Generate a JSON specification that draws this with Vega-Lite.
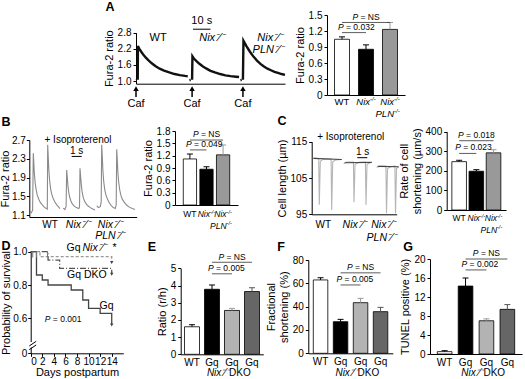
{
"$schema":"https://vega.github.io/schema/vega-lite/v6.json",
"width":525,"height":379,"padding":0,"autosize":{"type":"none"},"background":"white",
"config":{"view":{"stroke":null},"font":"Liberation Sans",
 "axis":{"labelFont":"Liberation Sans","titleFont":"Liberation Sans","labelFontSize":10,"titleFontSize":11,"titleFontWeight":"normal","labelColor":"#000","titleColor":"#000","domainColor":"#000","tickColor":"#000","domainWidth":1,"tickWidth":1,"tickSize":3,"labelPadding":2,"grid":false,"titlePadding":3},
 "text":{"font":"Liberation Sans","baseline":"middle","color":"#000"}},
"datasets":{
 "trA":[{"s":"a0","t":0.0,"v":1.02},{"s":"a0","t":0.5,"v":1.03},
  {"s":"a1","t":1.0,"v":1.05},{"s":"a1","t":1.1,"v":2.3},{"s":"a1","t":2,"v":2.19},{"s":"a1","t":3,"v":2.09},{"s":"a1","t":4,"v":2.0},{"s":"a1","t":5.5,"v":1.88},{"s":"a1","t":7,"v":1.78},{"s":"a1","t":9,"v":1.66},{"s":"a1","t":11,"v":1.56},{"s":"a1","t":13.5,"v":1.46},{"s":"a1","t":16,"v":1.39},{"s":"a1","t":19,"v":1.32},{"s":"a1","t":22,"v":1.26},{"s":"a1","t":25,"v":1.22},{"s":"a1","t":28,"v":1.19},{"s":"a1","t":29.5,"v":1.18},
  {"s":"b0","t":30.5,"v":1.03},{"s":"b0","t":31.2,"v":1.04},
  {"s":"b1","t":32,"v":1.05},{"s":"b1","t":32.2,"v":1.92},{"s":"b1","t":33,"v":1.84},{"s":"b1","t":34.5,"v":1.74},{"s":"b1","t":36,"v":1.65},{"s":"b1","t":38,"v":1.55},{"s":"b1","t":40,"v":1.47},{"s":"b1","t":42.5,"v":1.38},{"s":"b1","t":45,"v":1.32},{"s":"b1","t":48,"v":1.26},{"s":"b1","t":51,"v":1.21},{"s":"b1","t":54,"v":1.18},{"s":"b1","t":57,"v":1.16},{"s":"b1","t":58.8,"v":1.15},
  {"s":"c0","t":59.6,"v":1.03},{"s":"c0","t":60.3,"v":1.04},
  {"s":"c1","t":61,"v":1.05},{"s":"c1","t":61.3,"v":2.5},{"s":"c1","t":63,"v":2.3},{"s":"c1","t":65,"v":2.09},{"s":"c1","t":67,"v":1.91},{"s":"c1","t":69,"v":1.76},{"s":"c1","t":71,"v":1.64},{"s":"c1","t":73,"v":1.54},{"s":"c1","t":75,"v":1.46},{"s":"c1","t":77,"v":1.4},{"s":"c1","t":79,"v":1.34},{"s":"c1","t":81,"v":1.3},{"s":"c1","t":83,"v":1.26},{"s":"c1","t":85,"v":1.23}],
 "sbA":[{"t":32.5,"t2":42.5,"v":2.93}],
 "sbtA":[{"t":37.5,"v":3.22,"txt":"10 s"}],
 "cafA":[{"t":0,"v":0.4,"v2":0.7},{"t":32,"v":0.4,"v2":0.7},{"t":61,"v":0.4,"v2":0.7}],
 "cafTriA":[{"t":0,"v":0.72},{"t":32,"v":0.72},{"t":61,"v":0.72}],
 "cafTxtA":[{"t":0,"v":0.14,"txt":"Caf"},{"t":32,"v":0.14,"txt":"Caf"},{"t":61,"v":0.14,"txt":"Caf"}],
 "lblA":[{"t":12.6,"v":2.59,"txt":"WT"}],
 "lblAi":[{"t":43.4,"v":2.59,"txt":"Nix⁻⁄⁻"},{"t":76.5,"v":2.59,"txt":"Nix⁻⁄⁻"},{"t":75.4,"v":2.16,"txt":"PLN⁻⁄⁻"}],
 "letA":[{"t":-14.8,"v":3.74,"txt":"A"}],
 "barA":[{"g":"WT","v":1.045,"e":1.09},{"g":"Nix","v":0.857,"e":0.94},{"g":"PLN","v":1.23,"e":1.36}],
 "capA":[{"g":"WT","v":1.09},{"g":"Nix","v":0.94},{"g":"PLN","v":1.36}],
 "brA":[{"g":"WT","g2":"Nix","v":1.17},{"g":"WT","g2":"PLN","v":1.36}],
 "ptAl":[{"g":"WT","v":1.25,"txt":"= 0.032"}],
 "ptAc":[{"g":"Nix","v":1.45,"txt":"= NS"}],
 "xlAn":[{"g":"WT","v":-0.131,"txt":"WT"}],
 "xlAi":[{"g":"Nix","v":-0.131,"txt":"Nix"},{"g":"PLN","v":-0.131,"txt":"Nix"},{"g":"PLN","v":-0.356,"txt":"PLN"}],
 "trB":[{"s":"W","t":0.1,"v":1.18},{"s":"W","t":0.2,"v":1.15},{"s":"W","t":0.33,"v":1.2},{"s":"W","t":0.4,"v":2.42},{"s":"W","t":0.45,"v":2.22},{"s":"W","t":0.5,"v":2.0},{"s":"W","t":0.58,"v":1.8},{"s":"W","t":0.68,"v":1.65},{"s":"W","t":0.8,"v":1.52},{"s":"W","t":0.95,"v":1.44},{"s":"W","t":1.1,"v":1.37},{"s":"W","t":1.3,"v":1.32},{"s":"W","t":1.5,"v":1.27},{"s":"W","t":1.7,"v":1.24},{"s":"W","t":1.8,"v":1.23},{"s":"W","t":1.84,"v":2.6},{"s":"W","t":1.89,"v":2.36},{"s":"W","t":1.95,"v":2.08},{"s":"W","t":2.03,"v":1.84},{"s":"W","t":2.13,"v":1.66},{"s":"W","t":2.25,"v":1.54},{"s":"W","t":2.4,"v":1.45},{"s":"W","t":2.56,"v":1.38},{"s":"W","t":2.75,"v":1.32},{"s":"W","t":2.95,"v":1.27},{"s":"W","t":3.07,"v":1.24},
  {"s":"N","t":3.4,"v":1.25},{"s":"N","t":3.55,"v":1.22},{"s":"N","t":3.68,"v":1.28},{"s":"N","t":3.74,"v":2.06},{"s":"N","t":3.8,"v":1.9},{"s":"N","t":3.86,"v":1.73},{"s":"N","t":3.94,"v":1.59},{"s":"N","t":4.04,"v":1.48},{"s":"N","t":4.16,"v":1.4},{"s":"N","t":4.3,"v":1.34},{"s":"N","t":4.5,"v":1.29},{"s":"N","t":4.7,"v":1.26},{"s":"N","t":4.95,"v":1.24},{"s":"N","t":5.02,"v":1.27},{"s":"N","t":5.07,"v":2.1},{"s":"N","t":5.13,"v":1.93},{"s":"N","t":5.2,"v":1.75},{"s":"N","t":5.28,"v":1.6},{"s":"N","t":5.38,"v":1.49},{"s":"N","t":5.5,"v":1.41},{"s":"N","t":5.65,"v":1.35},{"s":"N","t":5.85,"v":1.3},{"s":"N","t":6.1,"v":1.26},{"s":"N","t":6.35,"v":1.23},{"s":"N","t":6.57,"v":1.21},
  {"s":"P","t":6.74,"v":1.3},{"s":"P","t":6.9,"v":1.26},{"s":"P","t":7.1,"v":1.28},{"s":"P","t":7.19,"v":1.38},{"s":"P","t":7.24,"v":2.6},{"s":"P","t":7.3,"v":2.35},{"s":"P","t":7.36,"v":2.05},{"s":"P","t":7.44,"v":1.82},{"s":"P","t":7.54,"v":1.65},{"s":"P","t":7.66,"v":1.53},{"s":"P","t":7.8,"v":1.45},{"s":"P","t":7.98,"v":1.37},{"s":"P","t":8.2,"v":1.3},{"s":"P","t":8.4,"v":1.26},{"s":"P","t":8.6,"v":1.24},{"s":"P","t":8.69,"v":1.32},{"s":"P","t":8.74,"v":2.5},{"s":"P","t":8.8,"v":2.27},{"s":"P","t":8.86,"v":2.0},{"s":"P","t":8.94,"v":1.8},{"s":"P","t":9.04,"v":1.64},{"s":"P","t":9.16,"v":1.52},{"s":"P","t":9.3,"v":1.44},{"s":"P","t":9.5,"v":1.37},{"s":"P","t":9.75,"v":1.31},{"s":"P","t":10.0,"v":1.27},{"s":"P","t":10.3,"v":1.24},{"s":"P","t":10.57,"v":1.22}],
 "lblB":[{"t":2.07,"v":0.89,"txt":"WT"},{"t":4.87,"v":2.71,"txt":"+ Isoproterenol"},{"t":4.74,"v":2.475,"txt":"1 s"}],
 "lblBi":[{"t":4.9,"v":0.89,"txt":"Nix⁻⁄⁻"},{"t":8.1,"v":0.89,"txt":"Nix⁻⁄⁻"},{"t":8.1,"v":0.655,"txt":"PLN⁻⁄⁻"}],
 "sbB":[{"t":4.24,"t2":5.24,"v":2.35}],
 "letB":[{"t":-2.33,"v":3.08,"txt":"B"}],
 "barB":[{"g":"WT","v":1.12,"e":1.24},{"g":"Nix","v":0.87,"e":0.93},{"g":"PLN","v":1.22,"e":1.46}],
 "capB":[{"g":"WT","v":1.24},{"g":"Nix","v":0.93},{"g":"PLN","v":1.46}],
 "brB":[{"g":"WT","g2":"Nix","v":1.34},{"g":"WT","g2":"PLN","v":1.58}],
 "ptBl":[{"g":"WT","v":1.46,"txt":"= 0.049"}],
 "ptBc":[{"g":"Nix","v":1.71,"txt":"= NS"}],
 "xlBn":[{"g":"WT","v":-0.231,"txt":"WT"}],
 "xlBi":[{"g":"Nix","v":-0.231,"txt":"Nix"},{"g":"PLN","v":-0.231,"txt":"Nix"},{"g":"PLN","v":-0.511,"txt":"PLN"}],
 "trC":[{"s":"W","t":0.17,"v":110.5},{"s":"W","t":0.5,"v":110.4},{"s":"W","t":0.7,"v":110.3},{"s":"W","t":0.76,"v":97.6},{"s":"W","t":0.86,"v":109.6},{"s":"W","t":1.1,"v":110.1},{"s":"W","t":1.5,"v":110.2},{"s":"W","t":1.94,"v":110.2},{"s":"W","t":2.0,"v":96.2},{"s":"W","t":2.1,"v":109.4},{"s":"W","t":2.4,"v":110.0},{"s":"W","t":3.0,"v":110.1},
  {"s":"N","t":3.2,"v":108.9},{"s":"N","t":3.5,"v":109.4},{"s":"N","t":4.17,"v":109.4},{"s":"N","t":4.23,"v":98.3},{"s":"N","t":4.33,"v":108.7},{"s":"N","t":4.7,"v":109.3},{"s":"N","t":5.37,"v":109.4},{"s":"N","t":5.43,"v":97.6},{"s":"N","t":5.53,"v":108.7},{"s":"N","t":5.8,"v":109.2},{"s":"N","t":6.0,"v":109.3},
  {"s":"P","t":6.5,"v":107.9},{"s":"P","t":6.8,"v":108.3},{"s":"P","t":7.42,"v":108.3},{"s":"P","t":7.48,"v":95.3},{"s":"P","t":7.58,"v":107.6},{"s":"P","t":7.9,"v":108.1},{"s":"P","t":8.32,"v":108.3},{"s":"P","t":8.38,"v":95.2},{"s":"P","t":8.48,"v":107.6},{"s":"P","t":8.7,"v":108.1}],
 "trCb":[{"s":"W","t":0.17,"v":110.4},{"s":"W","t":3.0,"v":110.1},{"s":"N","t":3.3,"v":109.2},{"s":"N","t":6.0,"v":109.3},{"s":"P","t":6.6,"v":108.2},{"s":"P","t":8.7,"v":108.1}],
 "lblC":[{"t":1.16,"v":92.1,"txt":"WT"},{"t":3.9,"v":116.3,"txt":"+ Isoproterenol"},{"t":5.1,"v":112.2,"txt":"1 s"}],
 "lblCi":[{"t":4.33,"v":92.1,"txt":"Nix⁻⁄⁻"},{"t":7.2,"v":92.1,"txt":"Nix⁻⁄⁻"},{"t":7.0,"v":88.4,"txt":"PLN⁻⁄⁻"}],
 "sbC":[{"t":4.56,"t2":5.56,"v":110.6}],
 "letC":[{"t":-2.97,"v":120.7,"txt":"C"}],
 "barC":[{"g":"WT","v":247,"e":254},{"g":"Nix","v":198,"e":206},{"g":"PLN","v":292,"e":308}],
 "capC":[{"g":"WT","v":254},{"g":"Nix","v":206},{"g":"PLN","v":308}],
 "brC":[{"g":"WT","g2":"Nix","v":289},{"g":"WT","g2":"PLN","v":354}],
 "ptCl":[{"g":"WT","v":317,"txt":"= 0.023"}],
 "ptCc":[{"g":"Nix","v":380,"txt":"= 0.018"}],
 "xlCn":[{"g":"WT","v":-42.4,"txt":"WT"}],
 "xlCi":[{"g":"Nix","v":-42.4,"txt":"Nix"},{"g":"PLN","v":-42.4,"txt":"Nix"},{"g":"PLN","v":-102.2,"txt":"PLN"}],
 "sv":[{"grp":"Gq","d":0,"p":1},{"grp":"Gq","d":1,"p":0.86},{"grp":"Gq","d":2,"p":0.83},{"grp":"Gq","d":3,"p":0.8},{"grp":"Gq","d":7,"p":0.77},{"grp":"Gq","d":9,"p":0.71},{"grp":"Gq","d":10,"p":0.66},{"grp":"Gq","d":12,"p":0.63},{"grp":"Gq","d":14,"p":0.63},{"grp":"Gq","d":14,"p":0.565},
  {"grp":"GqNix","d":0,"p":1},{"grp":"GqNix","d":1.6,"p":0.97},{"grp":"GqNix","d":14,"p":0.97},{"grp":"GqNix","d":14,"p":0.94},
  {"grp":"DKO","d":0,"p":1},{"grp":"DKO","d":3,"p":0.95},{"grp":"DKO","d":5,"p":0.9},{"grp":"DKO","d":14,"p":0.9},{"grp":"DKO","d":14,"p":0.87}],
 "svCen":[{"d":0.35,"p":1.0,"p2":0.965},{"d":1.0,"p":1.0,"p2":0.965},{"d":2.9,"p":1.0,"p2":0.968}],
 "svArr":[{"d":14,"p":0.56},{"d":14,"p":0.935},{"d":14,"p":0.865}],
 "svBrkW":[{"d":0,"p":0.425,"p2":0.458}],
 "svBrk":[{"d":-0.25,"p":0.412,"d2":0.95,"p2":0.44},{"d":-0.25,"p":0.434,"d2":0.95,"p2":0.462}],
 "lblD":[{"d":7.4,"p":1.022,"txt":"Gq"},{"d":14.5,"p":1.025,"txt":"*"},{"d":9.7,"p":0.862,"txt":"Gq DKO"},{"d":13.1,"p":0.675,"txt":"Gq"}],
 "lblDi":[{"d":11.1,"p":1.022,"txt":"Nix⁻⁄⁻"}],
 "ptD":[{"d":5.6,"p":0.594,"txt":"= 0.001"}],
 "letD":[{"d":-4.27,"p":1.034,"txt":"D"}],
 "barE":[{"g":"WT","v":1.6,"e":1.72},{"g":"Gq","v":3.78,"e":4.03},{"g":"GqNix","v":2.55,"e":2.67},{"g":"DKO","v":3.65,"e":3.87}],
 "capE":[{"g":"WT","v":1.72},{"g":"Gq","v":4.03},{"g":"GqNix","v":2.67},{"g":"DKO","v":3.87}],
 "brE":[{"g":"Gq","g2":"GqNix","v":4.68},{"g":"Gq","g2":"DKO","v":5.35}],
 "ptEl":[{"g":"Gq","v":4.98,"txt":"= 0.005"}],
 "ptEc":[{"g":"GqNix","v":5.62,"txt":"= NS"}],
 "l2E":[{"g":"GqNix","v":-1.09,"txt":"DKO"}],
 "l2Ei":[{"g":"GqNix","v":-1.09,"txt":"Nix⁻⁄⁻"}],
 "letE":[{"g":"WT","v":6.24,"txt":"E"}],
 "barF":[{"g":"WT","v":62.9,"e":64.8},{"g":"Gq","v":27.1,"e":29.1},{"g":"GqNix","v":43.4,"e":47.1},{"g":"DKO","v":35.7,"e":39.4}],
 "capF":[{"g":"WT","v":64.8},{"g":"Gq","v":29.1},{"g":"GqNix","v":47.1},{"g":"DKO","v":39.4}],
 "brF":[{"g":"Gq","g2":"GqNix","v":58.6},{"g":"Gq","g2":"DKO","v":69}],
 "ptFl":[{"g":"Gq","v":62.8,"txt":"= 0.005"}],
 "ptFc":[{"g":"GqNix","v":73,"txt":"= NS"}],
 "l2F":[{"g":"GqNix","v":-16.9,"txt":"DKO"}],
 "l2Fi":[{"g":"GqNix","v":-16.9,"txt":"Nix⁻⁄⁻"}],
 "letF":[{"g":"WT","v":91.1,"txt":"F"}],
 "barG":[{"g":"WT","v":0.5,"e":0.7},{"g":"Gq","v":14.3,"e":16.0},{"g":"GqNix","v":7.0,"e":7.4},{"g":"DKO","v":9.4,"e":10.4}],
 "capG":[{"g":"WT","v":0.7},{"g":"Gq","v":16.0},{"g":"GqNix","v":7.4},{"g":"DKO","v":10.4}],
 "brG":[{"g":"Gq","g2":"GqNix","v":17.7},{"g":"Gq","g2":"DKO","v":20.0}],
 "ptGl":[{"g":"Gq","v":18.7,"txt":"= 0.002"}],
 "ptGc":[{"g":"GqNix","v":21.0,"txt":"= NS"}],
 "l2G":[{"g":"GqNix","v":-4.0,"txt":"DKO"}],
 "l2Gi":[{"g":"GqNix","v":-4.0,"txt":"Nix⁻⁄⁻"}],
 "letG":[{"g":"WT","v":22.5,"txt":"G"}]
},
"layer":[
 {"encoding":{
   "x":{"field":"t","type":"quantitative","scale":{"domain":[0,85],"range":[136,285],"nice":false,"zero":false},"axis":{"orient":"bottom","offset":-295.3,"labels":false,"ticks":false,"title":null}},
   "y":{"field":"v","type":"quantitative","scale":{"domain":[0.9,2.8],"range":[83.7,32.7],"nice":false,"zero":false},"axis":{"orient":"left","offset":-136,"values":[1,1.6,2.2,2.8],"format":".1f","title":"Fura-2 ratio"}}},
  "layer":[
   {"data":{"name":"trA"},"mark":{"type":"line","color":"#111","strokeWidth":2.4},"encoding":{"detail":{"field":"s"}}},
   {"data":{"name":"sbA"},"mark":{"type":"rule","color":"#000","strokeWidth":1},"encoding":{"x2":{"field":"t2"}}},
   {"data":{"name":"sbtA"},"mark":{"type":"text","fontSize":11},"encoding":{"text":{"field":"txt"}}},
   {"data":{"name":"cafA"},"mark":{"type":"rule","color":"#000","strokeWidth":1.5},"encoding":{"y2":{"field":"v2"}}},
   {"data":{"name":"cafTriA"},"mark":{"type":"point","shape":"triangle-up","filled":true,"size":30,"color":"#000","opacity":1},"encoding":{}},
   {"data":{"name":"cafTxtA"},"mark":{"type":"text","fontSize":11},"encoding":{"text":{"field":"txt"}}},
   {"data":{"name":"lblA"},"mark":{"type":"text","fontSize":11},"encoding":{"text":{"field":"txt"}}},
   {"data":{"name":"lblAi"},"mark":{"type":"text","fontSize":11,"fontStyle":"italic"},"encoding":{"text":{"field":"txt"}}},
   {"data":{"name":"letA"},"mark":{"type":"text","fontSize":12.5,"fontWeight":"bold"},"encoding":{"text":{"field":"txt"}}}
  ]},
 {"encoding":{
   "x":{"field":"g","type":"nominal","sort":null,"scale":{"domain":["WT","Nix","PLN"],"range":[327,405],"paddingInner":0.375,"paddingOuter":0.3125},"axis":{"orient":"bottom","offset":-284,"ticks":false,"labels":false,"title":null}},
   "y":{"field":"v","type":"quantitative","scale":{"domain":[0,1.5],"range":[95,15],"nice":false,"zero":false},"axis":{"orient":"left","offset":-327,"values":[0,0.3,0.6,0.9,1.2,1.5],"labelExpr":"datum.value == 0 ? '0' : format(datum.value, '.1f')","title":"Fura-2 ratio"}}},
  "layer":[
   {"data":{"name":"barA"},"mark":{"type":"bar","stroke":"#000","strokeWidth":0.8},"encoding":{"fill":{"field":"g","type":"nominal","scale":{"domain":["WT","Nix","PLN"],"range":["#ffffff","#000000","#999999"]},"legend":null}}},
   {"data":{"name":"barA"},"mark":{"type":"rule","strokeWidth":1},"encoding":{"y2":{"field":"e"},"color":{"field":"g","type":"nominal","scale":{"domain":["WT","Nix","PLN"],"range":["#000000","#000000","#999999"]},"legend":null}}},
   {"data":{"name":"capA"},"mark":{"type":"tick","thickness":1,"size":6,"opacity":1},"encoding":{"color":{"field":"g","type":"nominal","scale":{"domain":["WT","Nix","PLN"],"range":["#000000","#000000","#999999"]},"legend":null}}},
   {"data":{"name":"brA"},"mark":{"type":"rule","color":"#333","strokeWidth":0.8},"encoding":{"x2":{"field":"g2"}}},
   {"data":{"name":"ptAl"},"mark":{"type":"text","align":"left","dx":-4,"dy":-1,"fontSize":8.5,"fontStyle":"italic"},"encoding":{"text":{"value":"P"}}},
   {"data":{"name":"ptAl"},"mark":{"type":"text","align":"left","dx":4.03,"dy":-1,"fontSize":8.5},"encoding":{"text":{"field":"txt"}}},
   {"data":{"name":"ptAc"},"mark":{"type":"text","align":"left","dx":-13.6,"dy":-1,"fontSize":8.5,"fontStyle":"italic"},"encoding":{"text":{"value":"P"}}},
   {"data":{"name":"ptAc"},"mark":{"type":"text","align":"left","dx":-5.57,"dy":-1,"fontSize":8.5},"encoding":{"text":{"field":"txt"}}},
   {"data":{"name":"xlAn"},"mark":{"type":"text","fontSize":9.5},"encoding":{"text":{"field":"txt"}}},
   {"data":{"name":"xlAi"},"mark":{"type":"text","align":"right","dx":4,"fontSize":9.5,"fontStyle":"italic"},"encoding":{"text":{"field":"txt"}}},
   {"data":{"name":"xlAi"},"mark":{"type":"text","align":"left","dx":4,"dy":-3,"fontSize":6,"fontStyle":"italic"},"encoding":{"text":{"value":"-/-"}}}
  ]},
 {"encoding":{
   "x":{"field":"t","type":"quantitative","scale":{"domain":[0,10.74],"range":[29.3,136.7],"nice":false,"zero":false},"axis":{"orient":"bottom","offset":-162,"labels":false,"ticks":false,"title":null}},
   "y":{"field":"v","type":"quantitative","scale":{"domain":[1.06,2.7],"range":[217,140],"nice":false,"zero":false},"axis":{"orient":"left","offset":-29.3,"values":[1.1,1.5,1.9,2.3,2.7],"format":".1f","title":"Fura-2 ratio","labelPadding":1,"titlePadding":1}}},
  "layer":[
   {"data":{"name":"trB"},"mark":{"type":"line","color":"#8a8a8a","strokeWidth":1.1},"encoding":{"detail":{"field":"s"}}},
   {"data":{"name":"sbB"},"mark":{"type":"rule","color":"#000","strokeWidth":1},"encoding":{"x2":{"field":"t2"}}},
   {"data":{"name":"lblB"},"mark":{"type":"text","fontSize":10},"encoding":{"text":{"field":"txt"}}},
   {"data":{"name":"lblBi"},"mark":{"type":"text","fontSize":10.5,"fontStyle":"italic"},"encoding":{"text":{"field":"txt"}}},
   {"data":{"name":"letB"},"mark":{"type":"text","fontSize":12.5,"fontWeight":"bold"},"encoding":{"text":{"field":"txt"}}}
  ]},
 {"encoding":{
   "x":{"field":"g","type":"nominal","sort":null,"scale":{"domain":["WT","Nix","PLN"],"range":[175,238],"paddingInner":0.2,"paddingOuter":0.5},"axis":{"orient":"bottom","offset":-174,"ticks":false,"labels":false,"title":null}},
   "y":{"field":"v","type":"quantitative","scale":{"domain":[0,1.8],"range":[205,131],"nice":false,"zero":false},"axis":{"orient":"left","offset":-175,"values":[0,0.3,0.6,0.9,1.2,1.5,1.8],"labelExpr":"datum.value == 0 ? '0' : format(datum.value, '.1f')","title":"Fura-2 ratio"}}},
  "layer":[
   {"data":{"name":"barB"},"mark":{"type":"bar","stroke":"#000","strokeWidth":0.8},"encoding":{"fill":{"field":"g","type":"nominal","scale":{"domain":["WT","Nix","PLN"],"range":["#ffffff","#000000","#999999"]},"legend":null}}},
   {"data":{"name":"barB"},"mark":{"type":"rule","strokeWidth":1},"encoding":{"y2":{"field":"e"},"color":{"field":"g","type":"nominal","scale":{"domain":["WT","Nix","PLN"],"range":["#000000","#000000","#999999"]},"legend":null}}},
   {"data":{"name":"capB"},"mark":{"type":"tick","thickness":1,"size":6,"opacity":1},"encoding":{"color":{"field":"g","type":"nominal","scale":{"domain":["WT","Nix","PLN"],"range":["#000000","#000000","#999999"]},"legend":null}}},
   {"data":{"name":"brB"},"mark":{"type":"rule","color":"#333","strokeWidth":0.8},"encoding":{"x2":{"field":"g2"}}},
   {"data":{"name":"ptBl"},"mark":{"type":"text","align":"left","dx":-4,"dy":-1,"fontSize":8.5,"fontStyle":"italic"},"encoding":{"text":{"value":"P"}}},
   {"data":{"name":"ptBl"},"mark":{"type":"text","align":"left","dx":4.03,"dy":-1,"fontSize":8.5},"encoding":{"text":{"field":"txt"}}},
   {"data":{"name":"ptBc"},"mark":{"type":"text","align":"left","dx":-13.6,"dy":-1,"fontSize":8.5,"fontStyle":"italic"},"encoding":{"text":{"value":"P"}}},
   {"data":{"name":"ptBc"},"mark":{"type":"text","align":"left","dx":-5.57,"dy":-1,"fontSize":8.5},"encoding":{"text":{"field":"txt"}}},
   {"data":{"name":"xlBn"},"mark":{"type":"text","fontSize":8.5},"encoding":{"text":{"field":"txt"}}},
   {"data":{"name":"xlBi"},"mark":{"type":"text","align":"right","dx":3.5,"fontSize":8.5,"fontStyle":"italic"},"encoding":{"text":{"field":"txt"}}},
   {"data":{"name":"xlBi"},"mark":{"type":"text","align":"left","dx":3.5,"dy":-2.7,"fontSize":5.5,"fontStyle":"italic"},"encoding":{"text":{"value":"-/-"}}}
  ]},
 {"encoding":{
   "x":{"field":"t","type":"quantitative","scale":{"domain":[0,8.5],"range":[311.7,396.7],"nice":false,"zero":false},"axis":{"orient":"bottom","offset":-164.7,"labels":false,"ticks":false,"title":null}},
   "y":{"field":"v","type":"quantitative","scale":{"domain":[95,115],"range":[214.3,141.7],"nice":false,"zero":false},"axis":{"orient":"left","offset":-311.7,"values":[95,105,115],"title":"Cell length (µm)"}}},
  "layer":[
   {"data":{"name":"trC"},"mark":{"type":"line","color":"#b5b5b5","strokeWidth":1.1},"encoding":{"detail":{"field":"s"}}},
   {"data":{"name":"trCb"},"mark":{"type":"line","color":"#444","strokeWidth":1.2},"encoding":{"detail":{"field":"s"}}},
   {"data":{"name":"sbC"},"mark":{"type":"rule","color":"#000","strokeWidth":1},"encoding":{"x2":{"field":"t2"}}},
   {"data":{"name":"lblC"},"mark":{"type":"text","fontSize":10},"encoding":{"text":{"field":"txt"}}},
   {"data":{"name":"lblCi"},"mark":{"type":"text","fontSize":10.5,"fontStyle":"italic"},"encoding":{"text":{"field":"txt"}}},
   {"data":{"name":"letC"},"mark":{"type":"text","fontSize":12.5,"fontWeight":"bold"},"encoding":{"text":{"field":"txt"}}}
  ]},
 {"encoding":{
   "x":{"field":"g","type":"nominal","sort":null,"scale":{"domain":["WT","Nix","PLN"],"range":[446.7,506],"paddingInner":0.15,"paddingOuter":0.3},"axis":{"orient":"bottom","offset":-169,"ticks":false,"labels":false,"title":null}},
   "y":{"field":"v","type":"quantitative","scale":{"domain":[0,400],"range":[210,131.7],"nice":false,"zero":false},"axis":{"orient":"left","offset":-446.7,"values":[0,100,200,300,400],"title":["Rate of cell","shortening (µm/s)"]}}},
  "layer":[
   {"data":{"name":"barC"},"mark":{"type":"bar","stroke":"#000","strokeWidth":0.8},"encoding":{"fill":{"field":"g","type":"nominal","scale":{"domain":["WT","Nix","PLN"],"range":["#ffffff","#000000","#999999"]},"legend":null}}},
   {"data":{"name":"barC"},"mark":{"type":"rule","strokeWidth":1},"encoding":{"y2":{"field":"e"},"color":{"field":"g","type":"nominal","scale":{"domain":["WT","Nix","PLN"],"range":["#000000","#000000","#999999"]},"legend":null}}},
   {"data":{"name":"capC"},"mark":{"type":"tick","thickness":1,"size":6,"opacity":1},"encoding":{"color":{"field":"g","type":"nominal","scale":{"domain":["WT","Nix","PLN"],"range":["#000000","#000000","#999999"]},"legend":null}}},
   {"data":{"name":"brC"},"mark":{"type":"rule","color":"#333","strokeWidth":0.8},"encoding":{"x2":{"field":"g2"}}},
   {"data":{"name":"ptCl"},"mark":{"type":"text","align":"left","dx":-4,"dy":-1,"fontSize":8.5,"fontStyle":"italic"},"encoding":{"text":{"value":"P"}}},
   {"data":{"name":"ptCl"},"mark":{"type":"text","align":"left","dx":4.03,"dy":-1,"fontSize":8.5},"encoding":{"text":{"field":"txt"}}},
   {"data":{"name":"ptCc"},"mark":{"type":"text","align":"left","dx":-18.3,"dy":-1,"fontSize":8.5,"fontStyle":"italic"},"encoding":{"text":{"value":"P"}}},
   {"data":{"name":"ptCc"},"mark":{"type":"text","align":"left","dx":-10.27,"dy":-1,"fontSize":8.5},"encoding":{"text":{"field":"txt"}}},
   {"data":{"name":"xlCn"},"mark":{"type":"text","fontSize":8.5},"encoding":{"text":{"field":"txt"}}},
   {"data":{"name":"xlCi"},"mark":{"type":"text","align":"right","dx":3.5,"fontSize":8.5,"fontStyle":"italic"},"encoding":{"text":{"field":"txt"}}},
   {"data":{"name":"xlCi"},"mark":{"type":"text","align":"left","dx":3.5,"dy":-2.7,"fontSize":5.5,"fontStyle":"italic"},"encoding":{"text":{"value":"-/-"}}}
  ]},
 {"encoding":{
   "x":{"field":"d","type":"quantitative","scale":{"domain":[0,16],"range":[30.7,123.3],"nice":false,"zero":false},"axis":{"orient":"bottom","offset":-25.7,"values":[0,2,4,6,8,10,12,14],"title":"Days postpartum","labelPadding":0,"titlePadding":0}},
   "y":{"field":"p","type":"quantitative","scale":{"domain":[0.39,1],"range":[353.3,251.7],"nice":false,"zero":false},"axis":{"orient":"left","offset":-30.7,"values":[0.39,0.6,0.8,1],"labelExpr":"datum.value < 0.5 ? '0' : format(datum.value, '.1f')","title":"Probability of survival","labelPadding":1,"titlePadding":1}}},
  "layer":[
   {"data":{"name":"sv"},"mark":{"type":"line","interpolate":"step-after","strokeWidth":1.3},"encoding":{"color":{"field":"grp","type":"nominal","scale":{"domain":["Gq","GqNix","DKO"],"range":["#444444","#999999","#555555"]},"legend":null},"strokeDash":{"field":"grp","type":"nominal","scale":{"domain":["Gq","GqNix","DKO"],"range":[[1,0],[3,2],[6,2,1,2]]},"legend":null}}},
   {"data":{"name":"svCen"},"mark":{"type":"rule","color":"#777","strokeWidth":1},"encoding":{"y2":{"field":"p2"}}},
   {"data":{"name":"svArr"},"mark":{"type":"point","shape":"triangle-down","filled":true,"size":12,"color":"#444","opacity":1},"encoding":{}},
   {"data":{"name":"svBrkW"},"mark":{"type":"rule","color":"#fff","strokeWidth":4},"encoding":{"y2":{"field":"p2"}}},
   {"data":{"name":"svBrk"},"mark":{"type":"rule","color":"#000","strokeWidth":1},"encoding":{"x2":{"field":"d2"},"y2":{"field":"p2"}}},
   {"data":{"name":"lblD"},"mark":{"type":"text","fontSize":10.5},"encoding":{"text":{"field":"txt"}}},
   {"data":{"name":"lblDi"},"mark":{"type":"text","fontSize":10.5,"fontStyle":"italic"},"encoding":{"text":{"field":"txt"}}},
   {"data":{"name":"ptD"},"mark":{"type":"text","align":"left","dx":-18.3,"fontSize":8.5,"fontStyle":"italic"},"encoding":{"text":{"value":"P"}}},
   {"data":{"name":"ptD"},"mark":{"type":"text","align":"left","dx":-10.27,"fontSize":8.5},"encoding":{"text":{"field":"txt"}}},
   {"data":{"name":"letD"},"mark":{"type":"text","fontSize":12.5,"fontWeight":"bold"},"encoding":{"text":{"field":"txt"}}}
  ]},
 {"encoding":{
   "x":{"field":"g","type":"nominal","sort":null,"scale":{"domain":["WT","Gq","GqNix","DKO"],"range":[180.7,263.3],"paddingInner":0.25,"paddingOuter":0.19},"axis":{"orient":"bottom","offset":-24.7,"ticks":false,"title":null,"labelAngle":0,"labelPadding":3,"labelExpr":"datum.value == 'WT' ? 'WT' : 'Gq'"}},
   "y":{"field":"v","type":"quantitative","scale":{"domain":[0,5],"range":[354.3,268.3],"nice":false,"zero":false},"axis":{"orient":"left","offset":-180.7,"values":[0,1,2,3,4,5],"title":"Ratio (r/h)"}}},
  "layer":[
   {"data":{"name":"barE"},"mark":{"type":"bar","stroke":"#000","strokeWidth":0.8},"encoding":{"fill":{"field":"g","type":"nominal","scale":{"domain":["WT","Gq","GqNix","DKO"],"range":["#ffffff","#000000","#b3b3b3","#666666"]},"legend":null}}},
   {"data":{"name":"barE"},"mark":{"type":"rule","strokeWidth":1},"encoding":{"y2":{"field":"e"},"color":{"field":"g","type":"nominal","scale":{"domain":["WT","Gq","GqNix","DKO"],"range":["#000000","#000000","#999999","#555555"]},"legend":null}}},
   {"data":{"name":"capE"},"mark":{"type":"tick","thickness":1,"size":6,"opacity":1},"encoding":{"color":{"field":"g","type":"nominal","scale":{"domain":["WT","Gq","GqNix","DKO"],"range":["#000000","#000000","#999999","#555555"]},"legend":null}}},
   {"data":{"name":"brE"},"mark":{"type":"rule","color":"#333","strokeWidth":0.8},"encoding":{"x2":{"field":"g2"}}},
   {"data":{"name":"ptEl"},"mark":{"type":"text","align":"left","dx":-4,"dy":-1,"fontSize":8.5,"fontStyle":"italic"},"encoding":{"text":{"value":"P"}}},
   {"data":{"name":"ptEl"},"mark":{"type":"text","align":"left","dx":4.03,"dy":-1,"fontSize":8.5},"encoding":{"text":{"field":"txt"}}},
   {"data":{"name":"ptEc"},"mark":{"type":"text","align":"left","dx":-13.6,"dy":-1,"fontSize":8.5,"fontStyle":"italic"},"encoding":{"text":{"value":"P"}}},
   {"data":{"name":"ptEc"},"mark":{"type":"text","align":"left","dx":-5.57,"dy":-1,"fontSize":8.5},"encoding":{"text":{"field":"txt"}}},
   {"data":{"name":"l2E"},"mark":{"type":"text","align":"left","dx":-3,"fontSize":10},"encoding":{"text":{"field":"txt"}}},
   {"data":{"name":"l2Ei"},"mark":{"type":"text","align":"right","dx":-3,"fontSize":10,"fontStyle":"italic"},"encoding":{"text":{"field":"txt"}}},
   {"data":{"name":"letE"},"mark":{"type":"text","dx":-40,"fontSize":12.5,"fontWeight":"bold"},"encoding":{"text":{"field":"txt"}}}
  ]},
 {"encoding":{
   "x":{"field":"g","type":"nominal","sort":null,"scale":{"domain":["WT","Gq","GqNix","DKO"],"range":[308.3,392.8],"paddingInner":0.275,"paddingOuter":0.25},"axis":{"orient":"bottom","offset":-25.7,"ticks":false,"title":null,"labelAngle":0,"labelPadding":3,"labelExpr":"datum.value == 'WT' ? 'WT' : 'Gq'"}},
   "y":{"field":"v","type":"quantitative","scale":{"domain":[0,80],"range":[353.3,260],"nice":false,"zero":false},"axis":{"orient":"left","offset":-308.3,"values":[0,20,40,60,80],"title":["Fractional","shortening (%)"]}}},
  "layer":[
   {"data":{"name":"barF"},"mark":{"type":"bar","stroke":"#000","strokeWidth":0.8},"encoding":{"fill":{"field":"g","type":"nominal","scale":{"domain":["WT","Gq","GqNix","DKO"],"range":["#ffffff","#000000","#b3b3b3","#666666"]},"legend":null}}},
   {"data":{"name":"barF"},"mark":{"type":"rule","strokeWidth":1},"encoding":{"y2":{"field":"e"},"color":{"field":"g","type":"nominal","scale":{"domain":["WT","Gq","GqNix","DKO"],"range":["#000000","#000000","#999999","#555555"]},"legend":null}}},
   {"data":{"name":"capF"},"mark":{"type":"tick","thickness":1,"size":6,"opacity":1},"encoding":{"color":{"field":"g","type":"nominal","scale":{"domain":["WT","Gq","GqNix","DKO"],"range":["#000000","#000000","#999999","#555555"]},"legend":null}}},
   {"data":{"name":"brF"},"mark":{"type":"rule","color":"#333","strokeWidth":0.8},"encoding":{"x2":{"field":"g2"}}},
   {"data":{"name":"ptFl"},"mark":{"type":"text","align":"left","dx":-4,"dy":-1,"fontSize":8.5,"fontStyle":"italic"},"encoding":{"text":{"value":"P"}}},
   {"data":{"name":"ptFl"},"mark":{"type":"text","align":"left","dx":4.03,"dy":-1,"fontSize":8.5},"encoding":{"text":{"field":"txt"}}},
   {"data":{"name":"ptFc"},"mark":{"type":"text","align":"left","dx":-13.6,"dy":-1,"fontSize":8.5,"fontStyle":"italic"},"encoding":{"text":{"value":"P"}}},
   {"data":{"name":"ptFc"},"mark":{"type":"text","align":"left","dx":-5.57,"dy":-1,"fontSize":8.5},"encoding":{"text":{"field":"txt"}}},
   {"data":{"name":"l2F"},"mark":{"type":"text","align":"left","dx":-3,"fontSize":10},"encoding":{"text":{"field":"txt"}}},
   {"data":{"name":"l2Fi"},"mark":{"type":"text","align":"right","dx":-3,"fontSize":10,"fontStyle":"italic"},"encoding":{"text":{"field":"txt"}}},
   {"data":{"name":"letF"},"mark":{"type":"text","dx":-39.5,"fontSize":12.5,"fontWeight":"bold"},"encoding":{"text":{"field":"txt"}}}
  ]},
 {"encoding":{
   "x":{"field":"g","type":"nominal","sort":null,"scale":{"domain":["WT","Gq","GqNix","DKO"],"range":[430,522],"paddingInner":0.3,"paddingOuter":0.35},"axis":{"orient":"bottom","offset":-25,"ticks":false,"title":null,"labelAngle":0,"labelPadding":3,"labelExpr":"datum.value == 'WT' ? 'WT' : 'Gq'"}},
   "y":{"field":"v","type":"quantitative","scale":{"domain":[0,20],"range":[354,259],"nice":false,"zero":false},"axis":{"orient":"left","offset":-430,"values":[0,4,8,12,16,20],"title":"TUNEL positive (%)"}}},
  "layer":[
   {"data":{"name":"barG"},"mark":{"type":"bar","stroke":"#000","strokeWidth":0.8},"encoding":{"fill":{"field":"g","type":"nominal","scale":{"domain":["WT","Gq","GqNix","DKO"],"range":["#ffffff","#000000","#b3b3b3","#666666"]},"legend":null}}},
   {"data":{"name":"barG"},"mark":{"type":"rule","strokeWidth":1},"encoding":{"y2":{"field":"e"},"color":{"field":"g","type":"nominal","scale":{"domain":["WT","Gq","GqNix","DKO"],"range":["#000000","#000000","#999999","#555555"]},"legend":null}}},
   {"data":{"name":"capG"},"mark":{"type":"tick","thickness":1,"size":6,"opacity":1},"encoding":{"color":{"field":"g","type":"nominal","scale":{"domain":["WT","Gq","GqNix","DKO"],"range":["#000000","#000000","#999999","#555555"]},"legend":null}}},
   {"data":{"name":"brG"},"mark":{"type":"rule","color":"#333","strokeWidth":0.8},"encoding":{"x2":{"field":"g2"}}},
   {"data":{"name":"ptGl"},"mark":{"type":"text","align":"left","dx":-4,"dy":-1,"fontSize":8.5,"fontStyle":"italic"},"encoding":{"text":{"value":"P"}}},
   {"data":{"name":"ptGl"},"mark":{"type":"text","align":"left","dx":4.03,"dy":-1,"fontSize":8.5},"encoding":{"text":{"field":"txt"}}},
   {"data":{"name":"ptGc"},"mark":{"type":"text","align":"left","dx":-13.6,"dy":-1,"fontSize":8.5,"fontStyle":"italic"},"encoding":{"text":{"value":"P"}}},
   {"data":{"name":"ptGc"},"mark":{"type":"text","align":"left","dx":-5.57,"dy":-1,"fontSize":8.5},"encoding":{"text":{"field":"txt"}}},
   {"data":{"name":"l2G"},"mark":{"type":"text","align":"left","dx":-3,"fontSize":10},"encoding":{"text":{"field":"txt"}}},
   {"data":{"name":"l2Gi"},"mark":{"type":"text","align":"right","dx":-3,"fontSize":10,"fontStyle":"italic"},"encoding":{"text":{"field":"txt"}}},
   {"data":{"name":"letG"},"mark":{"type":"text","dx":-36.6,"fontSize":12.5,"fontWeight":"bold"},"encoding":{"text":{"field":"txt"}}}
  ]}
],
"resolve":{"scale":{"x":"independent","y":"independent","color":"independent","fill":"independent","strokeDash":"independent"},"axis":{"x":"independent","y":"independent"}}
}
